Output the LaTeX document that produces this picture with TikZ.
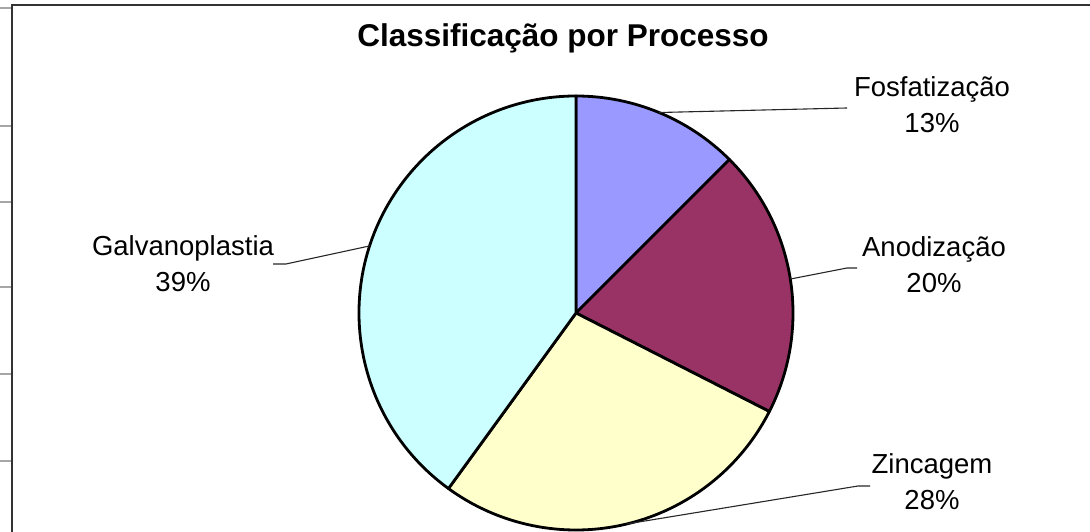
\documentclass[tikz,border=0pt]{standalone}
\usepackage{fontspec}
\setmainfont{Liberation Sans}
\usepackage{tikz}

\definecolor{fosfcol}{HTML}{9999FF}
\definecolor{anodcol}{HTML}{993366}
\definecolor{zinccol}{HTML}{FFFFCC}
\definecolor{galvcol}{HTML}{CCFFFF}

\begin{document}
\begin{tikzpicture}[x=1pt, y=1pt]
                            \tikzset{slice/.style={draw=black, line width=2.8pt, line join=round},
                                label/.style={align=center, font=\fontsize{27.5}{36}\selectfont, inner sep=0pt},
                                leader/.style={draw=black!85, line width=1.1pt}}
                            \useasboundingbox (0, 0) rectangle (1090, 532);

                            % frame and ticks
                            \draw[line width=1.8pt, black!80] (1095, 527) -- (12, 527) -- (12, -5);
                            \foreach \ty in {524, 406, 330, 245, 158, 71}
                                \draw[line width=1.2pt, black!35] (0, \ty) -- (11.2, \ty);

                            \node[font=\fontsize{31.5}{36}\selectfont\bfseries] (title) at (563, 494){Classificação por Processo};

                            \coordinate (c) at (576, 219);
                            \filldraw[slice, fill=fosfcol] (c) -- ++(90:217) arc[start angle=90, end angle=45, radius=217] -- cycle;
                            \filldraw[slice, fill=anodcol] (c) -- ++(45:217) arc[start angle=45, end angle=-27, radius=217] -- cycle;
                            \filldraw[slice, fill=zinccol] (c) -- ++(-27:217) arc[start angle=-27, end angle=-126, radius=217] -- cycle;
                            \filldraw[slice, fill=galvcol] (c) -- ++(-126:217) arc[start angle=-126, end angle=-270, radius=217] -- cycle;

                            \node[label] (fosf) at (932, 427){Fosfatização\\13\%};
                            \node[label] (anod) at (934, 267){Anodização\\20\%};
                            \node[label] (galv) at (183, 268){Galvanoplastia\\39\%};
                            \node[label] (zinc) at (932, 50){Zincagem\\28\%};

                            \path (c) ++(67.5:217) coordinate (fosfA)
                                  (c) ++(9:217) coordinate (anodA)
                                  (c) ++(162:217) coordinate (galvA)
                                  (c) ++(-76.5:217) coordinate (zincA);
                            \coordinate (fosfB) at (847, 424);
                            \coordinate (anodB) at (847, 264);
                            \coordinate (anodC) at (857, 264);
                            \coordinate (galvB) at (286, 268);
                            \coordinate (galvC) at (273, 268);
                            \coordinate (zincB) at (858, 46);
                            \coordinate (zincC) at (870, 46);

                            \draw[leader] (fosfA) -- (fosfB)
                                (anodA) -- (anodB) -- (anodC)
                                (galvA) -- (galvB) -- (galvC)
                                (zincA) -- (zincB) -- (zincC);
                        \end{tikzpicture}
\end{document}
